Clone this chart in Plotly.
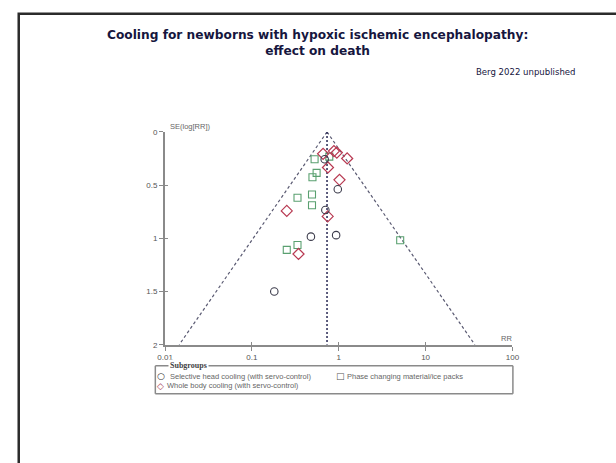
import plotly.graph_objects as go
import numpy as np

W, H = 616, 463

# ---- data (RR, SE(log RR)) ----
shc_rr = [0.689, 0.975, 0.701, 0.478, 0.933, 0.181]
shc_se = [0.256, 0.539, 0.733, 0.984, 0.970, 1.500]

wbc_rr = [0.66, 0.88, 0.95, 1.25, 0.751, 1.02, 0.252, 0.746, 0.344]
wbc_se = [0.205, 0.180, 0.194, 0.249, 0.334, 0.450, 0.742, 0.794, 1.147]

pcm_rr = [0.527, 0.778, 0.556, 0.498, 0.335, 0.492, 0.492, 0.335, 0.252, 5.10]
pcm_se = [0.256, 0.232, 0.385, 0.426, 0.619, 0.588, 0.689, 1.062, 1.108, 1.018]

POOLED_RR = 0.733
SE_MAX = 2.0

x_tickvals = [0.01, 0.1, 1, 10, 100]
x_ticktext = ["0.01", "0.1", "1", "10", "100"]
y_tickvals = [0, 0.5, 1, 1.5, 2]
y_ticktext = ["0", "0.5", "1", "1.5", "2"]

series_names = ["Selective head cooling (with servo-control)",
                "Whole body cooling (with servo-control)",
                "Phase changing material/ice packs"]

# ---- helpers for layout positioning (pixels -> paper) ----
def px(x):
    return x / W

def py(y):
    return 1 - y / H

X0, X1 = 161, 517
Y0, Y1 = 130.5, 347.5
xdom = [px(X0), px(X1)]
ydom = [py(Y1), py(Y0)]

fig = go.Figure()

# funnel limits
se_line = np.array([0.0, SE_MAX])
lo = 10 ** (np.log10(POOLED_RR) - 1.96 * se_line / np.log(10))
hi = 10 ** (np.log10(POOLED_RR) + 1.96 * se_line / np.log(10))
fig.add_trace(go.Scatter(x=list(lo), y=list(se_line), mode="lines",
                         line=dict(color="#5a5a72", width=1.2, dash="3px,2.5px"),
                         showlegend=False, hoverinfo="skip"))
fig.add_trace(go.Scatter(x=list(hi), y=list(se_line), mode="lines",
                         line=dict(color="#5a5a72", width=1.2, dash="3px,2.5px"),
                         showlegend=False, hoverinfo="skip"))
fig.add_trace(go.Scatter(x=[POOLED_RR, POOLED_RR], y=[0, SE_MAX], mode="lines",
                         line=dict(color="#34345e", width=1.6, dash="2px,2px"),
                         showlegend=False, hoverinfo="skip"))

fig.add_trace(go.Scatter(x=pcm_rr, y=pcm_se, mode="markers", name=series_names[2],
                         marker=dict(symbol="square-open", size=7,
                                     color="#5aa070", line=dict(width=1.1)),
                         showlegend=False))
fig.add_trace(go.Scatter(x=wbc_rr, y=wbc_se, mode="markers", name=series_names[1],
                         marker=dict(symbol="diamond-open", size=8.5,
                                     color="#b83a52", line=dict(width=1.2)),
                         showlegend=False))
fig.add_trace(go.Scatter(x=shc_rr, y=shc_se, mode="markers", name=series_names[0],
                         marker=dict(symbol="circle-open", size=7.5,
                                     color="#3c3c4c", line=dict(width=1.1)),
                         showlegend=False))

# invisible trace for the overlay axes (inside ticks)
fig.add_trace(go.Scatter(x=[1], y=[1], xaxis="x2", yaxis="y2", mode="markers",
                         marker=dict(opacity=0), showlegend=False, hoverinfo="skip"))

tickfont = dict(family="Liberation Sans, Arial, sans-serif", size=8, color="#555555")
axcol = "#8a8a8a"

fig.update_layout(
    width=W, height=H,
    margin=dict(l=0, r=0, t=0, b=0),
    paper_bgcolor="white", plot_bgcolor="white",
    showlegend=False,
    xaxis=dict(type="log", range=[-2, 2], domain=xdom, anchor="y",
               showgrid=False, zeroline=False, showline=True, linecolor=axcol, linewidth=2,
               ticks="outside", ticklen=4, tickcolor=axcol, tickwidth=1,
               tickvals=x_tickvals, ticktext=x_ticktext, tickfont=tickfont),
    yaxis=dict(range=[SE_MAX, 0], domain=ydom, anchor="x",
               showgrid=False, zeroline=False, showline=True, linecolor=axcol, linewidth=2,
               ticks="outside", ticklen=4, tickcolor=axcol, tickwidth=1,
               tickvals=y_tickvals, ticktext=y_ticktext, tickfont=tickfont),
    xaxis2=dict(type="log", range=[-2, 2], domain=xdom, anchor="y2", overlaying="x",
                showgrid=False, zeroline=False, showline=False,
                ticks="inside", ticklen=3, tickcolor=axcol, tickwidth=1,
                tickvals=x_tickvals, showticklabels=False),
    yaxis2=dict(range=[SE_MAX, 0], domain=ydom, anchor="x2", overlaying="y",
                showgrid=False, zeroline=False, showline=False,
                ticks="inside", ticklen=3, tickcolor=axcol, tickwidth=1,
                tickvals=y_tickvals, showticklabels=False),
)

navy = "#16163e"
annots = [
    dict(text="<b>Cooling for newborns with hypoxic ischemic encephalopathy:<br>effect on death</b>",
         x=px(317), y=py(40), xanchor="center", yanchor="middle",
         font=dict(family="DejaVu Sans, Verdana, sans-serif", size=12.2, color=navy)),
    dict(text="Berg 2022 unpublished", x=px(584), y=py(69), xanchor="right", yanchor="middle",
         font=dict(family="DejaVu Sans Condensed, DejaVu Sans, sans-serif", size=9.5, color=navy)),
    dict(text="SE(log[RR])", x=px(164), y=py(125), xanchor="left", yanchor="middle",
         font=dict(family="Liberation Sans, Arial, sans-serif", size=7.5, color="#666666")),
    dict(text="RR", x=px(511), y=py(341), xanchor="center", yanchor="middle",
         font=dict(family="Liberation Sans, Arial, sans-serif", size=7.5, color="#666666")),
    dict(text="<b>Subgroups</b>", x=px(164), y=py(369), xanchor="left", yanchor="middle",
         bgcolor="white",
         font=dict(family="Liberation Serif, serif", size=8, color="#444444")),
    dict(text="○", x=px(150.5), y=py(379.5), xanchor="left", yanchor="middle",
         font=dict(family="DejaVu Sans, sans-serif", size=9, color="#333333")),
    dict(text=series_names[0], x=px(164), y=py(379.5), xanchor="left", yanchor="middle",
         font=dict(family="Liberation Sans, Arial, sans-serif", size=7.5, color="#666666")),
    dict(text="◇", x=px(150.5), y=py(389.5), xanchor="left", yanchor="middle",
         font=dict(family="DejaVu Sans, sans-serif", size=9, color="#a83a52")),
    dict(text=series_names[1], x=px(161), y=py(389.5), xanchor="left", yanchor="middle",
         font=dict(family="Liberation Sans, Arial, sans-serif", size=7.5, color="#666666")),
    dict(text="□", x=px(334), y=py(379.5), xanchor="left", yanchor="middle",
         font=dict(family="DejaVu Sans, sans-serif", size=9, color="#555555")),
    dict(text=series_names[2], x=px(345), y=py(379.5), xanchor="left", yanchor="middle",
         font=dict(family="Liberation Sans, Arial, sans-serif", size=7.5, color="#666666")),
]
for a in annots:
    a.update(xref="paper", yref="paper", showarrow=False)
fig.update_layout(annotations=annots)

lg = dict(color="#8a8a8a", width=1.5)
shapes = [
    # slide frame
    dict(type="rect", x0=px(11), x1=px(640), y0=py(10), y1=py(500),
         line=dict(color="#2b2b2b", width=2.5)),
    # legend box
    dict(type="line", x0=px(151), x1=px(151), y0=py(369), y1=py(397.5), line=lg),
    dict(type="line", x0=px(151), x1=px(517.5), y0=py(397.5), y1=py(397.5), line=lg),
    dict(type="line", x0=px(517.5), x1=px(517.5), y0=py(369), y1=py(397.5), line=lg),
    dict(type="line", x0=px(151), x1=px(517.5), y0=py(369), y1=py(369), line=lg),
]
for s in shapes:
    s.update(xref="paper", yref="paper")
fig.update_layout(shapes=shapes)

fig.write_html("out.html")
